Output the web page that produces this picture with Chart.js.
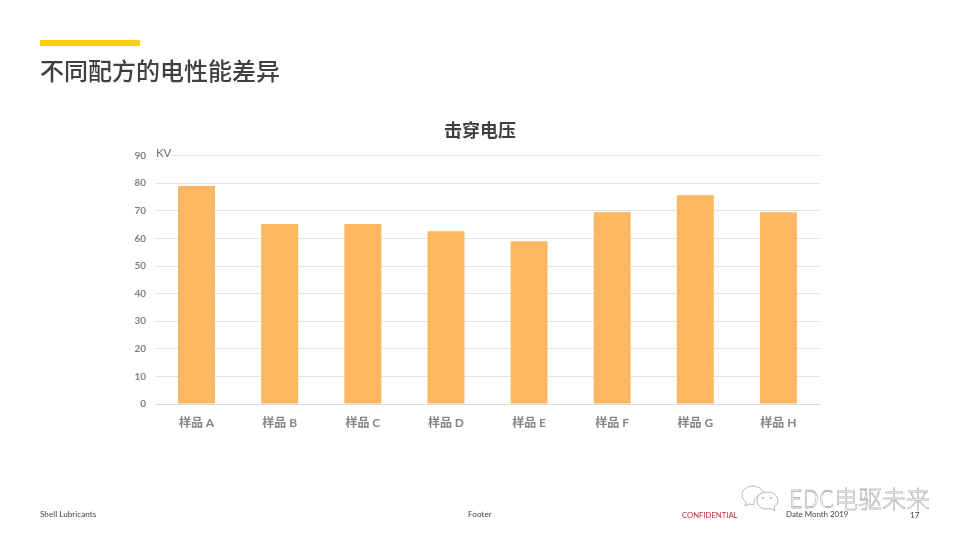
<!DOCTYPE html>
<html lang="zh-CN">
<head>
    <meta charset="UTF-8">
    <title>不同配方的电性能差异</title>
    <script src="https://cdn.jsdelivr.net/npm/chart.js@4.4.0/dist/chart.umd.min.js"></script>
    <style>
        html, body { margin: 0; padding: 0; background: #fff; }
        #slide { position: relative; width: 960px; height: 540px; overflow: hidden; font-family: Lato, sans-serif; }
        #slide canvas { position: absolute; left: 0; top: 0; }
        .txt { position: absolute; white-space: nowrap; line-height: 1; }
        #accent { position: absolute; left: 40px; top: 40px; width: 100px; height: 6px; background: #fbce07; border-radius: 1px; }
        #heading { left: 40px; top: 52px; font: 500 24px "Noto Sans CJK SC", sans-serif; color: #404040; }
        #unit { left: 156px; top: 147px; padding-right: 2px; font-size: 11.5px; color: #6f6f6f; background: #fff; }
        .foot { top: 510px; font-size: 8.2px; color: #444; }
        #conf { left: 682px; top: 512px; font-size: 7.7px; color: #c0303a; }
        #mark { left: 789px; top: 480px; font: 300 24px "Noto Sans CJK SC", sans-serif; color: #fff; -webkit-text-stroke: 0.35px #777; }
        #wechat { position: absolute; left: 740px; top: 483px; }
    </style>
</head>
<body>
<div id="slide">
    <canvas id="barChart" width="960" height="540"></canvas>
    <div id="accent"></div>
    <div class="txt" id="heading">不同配方的电性能差异</div>
    <div class="txt" id="unit">KV</div>
    <div class="txt foot" style="left:40px">Shell Lubricants</div>
    <div class="txt foot" style="left:468px">Footer</div>
    <div class="txt" id="conf">CONFIDENTIAL</div>
    <svg id="wechat" width="44" height="32" viewBox="0 0 44 32" fill="#fff" stroke="#8a8a8a" stroke-width="0.6">
        <path d="M13 3c-6 0-11 4-11 9 0 3 1.500 5 4 7l-1 4 4-2c1.500.5 3 .7 5 .6-1-6 4-11 10-11-1-4-6-7.600-11-7.600z"/>
        <path d="M27 9c-6 0-10 3.800-10 8.500s4 8.500 10 8.500c1.500 0 2.500-.2 4-.6l4 2.600-1-4c2.500-1.600 4-3.800 4-6.500C38 12.800 33 9 27 9z"/>
        <circle cx="23" cy="15" r="0.7"/><circle cx="31" cy="15" r="0.7"/>
    </svg>
    <div class="txt" id="mark">EDC电驱未来</div>
    <div class="txt foot" style="left:786px;top:511px;font-size:7.900px">Date Month 2019</div>
    <div class="txt foot" style="left:910px;top:511px">17</div>
</div>

<script>
    const categories = ['样品 A', '样品 B', '样品 C', '样品 D', '样品 E', '样品 F', '样品 G', '样品 H'];
    const voltages = [79, 65.2, 65.2, 62.6, 59, 69.5, 75.6, 69.5];

    // Title is centred on the page, not on the padded chart box
    const centerTitle = {
        id: 'centerTitle',
        afterLayout(chart) {
            chart.titleBlock.left = 0;
            chart.titleBlock.right = chart.width;
        }
    };

    const ctx = document.getElementById('barChart').getContext('2d');
    new Chart(ctx, {
        type: 'bar',
        plugins: [centerTitle],
        data: {
            labels: categories,
            datasets: [{
                label: '击穿电压',
                data: voltages,
                backgroundColor: '#fcb762',
                categoryPercentage: 1,
                barPercentage: 0.445
            }]
        },
        options: {
            responsive: false,
            animation: false,
            layout: { padding: { left: 100, right: 140, top: 119, bottom: 106 } },
            plugins: {
                legend: { display: false },
                tooltip: { enabled: false },
                title: {
                    display: true,
                    text: '击穿电压',
                    color: '#404040',
                    font: { family: '"Noto Sans CJK SC"', size: 18, weight: '700' },
                    padding: { top: 0, bottom: 15 }
                }
            },
            scales: {
                x: {
                    afterFit: scale => { scale.height = 30; },
                    grid: { display: false, drawTicks: false },
                    border: { color: '#dcdcdc', width: 1 },
                    ticks: {
                        color: '#858585',
                        padding: 12,
                        maxRotation: 0,
                        font: { family: 'Lato, "Noto Sans CJK SC"', size: 12, weight: 'bold' }
                    }
                },
                y: {
                    min: 0,
                    max: 90,
                    afterFit: scale => { scale.width = 55; },
                    grid: { color: '#e2e2e2', lineWidth: 1, drawTicks: false },
                    border: { display: false },
                    ticks: {
                        stepSize: 10,
                        color: '#7f7f7f',
                        padding: 9,
                        font: { family: 'Lato', size: 10, weight: 'bold' }
                    }
                }
            }
        }
    });
</script>
</body>
</html>
